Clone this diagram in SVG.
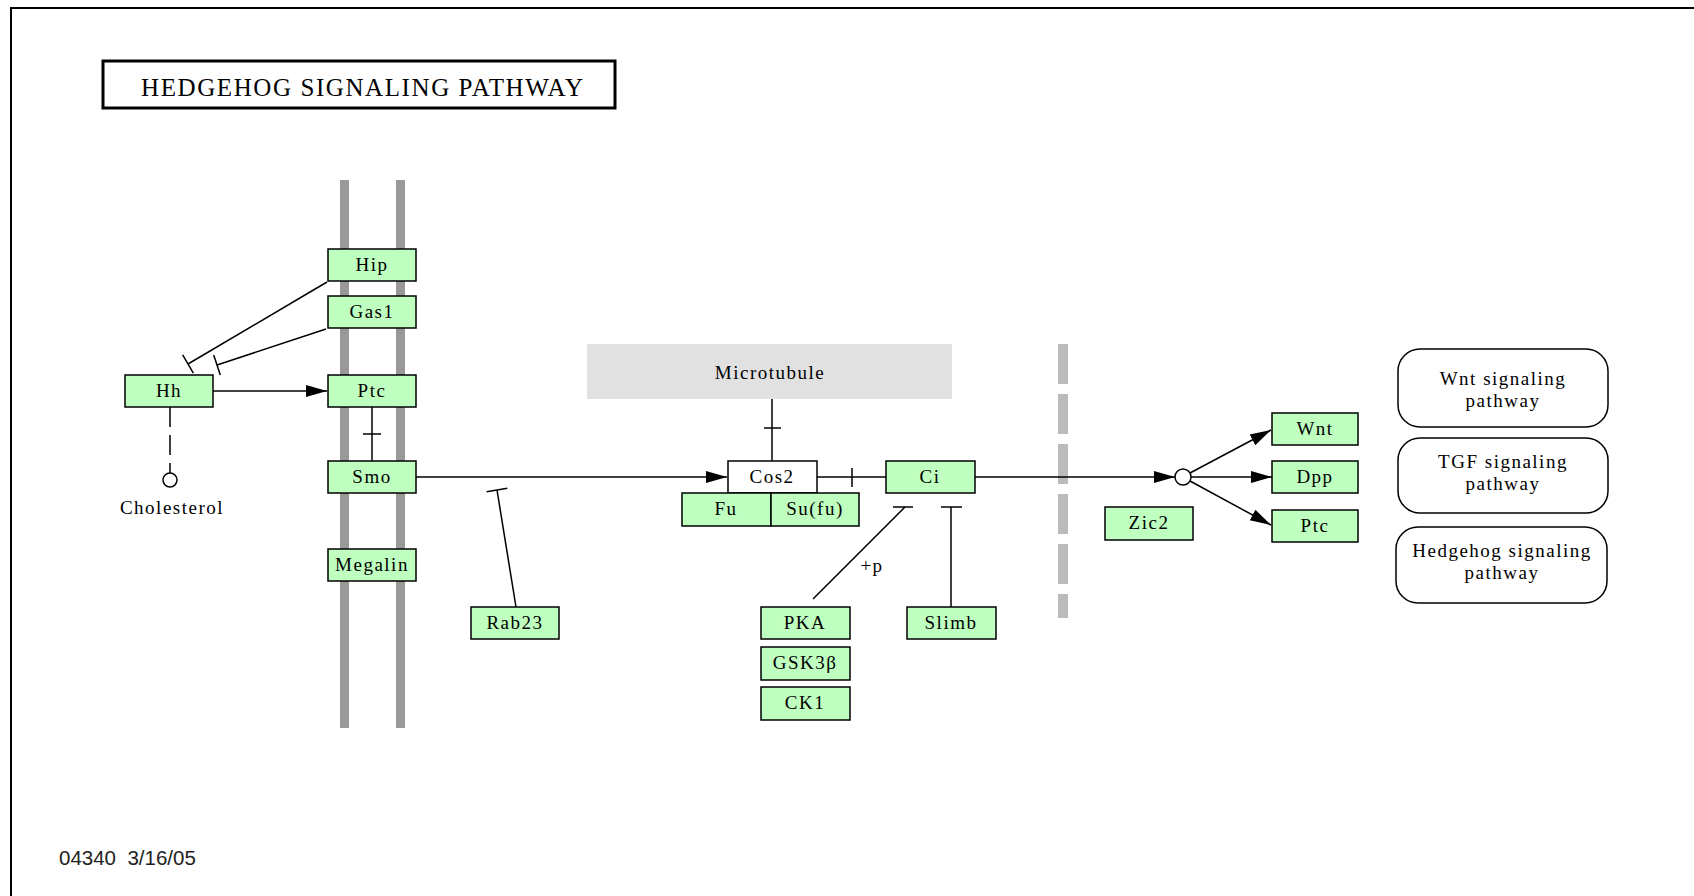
<svg xmlns="http://www.w3.org/2000/svg" width="1694" height="896" viewBox="0 0 1694 896">
  <style>
    .node rect { fill: #bfffbf; stroke: #000; stroke-width: 1.5; }
    .node text, .label, .map text { font-family: "Liberation Serif", "DejaVu Serif", serif; font-size: 19px; letter-spacing: 1.5px; fill: #000; text-anchor: middle; }
    .map rect { fill: #fff; stroke: #000; stroke-width: 1.5; }
    .edge { stroke: #000; stroke-width: 1.5; fill: none; }
    .membrane { stroke: #999; stroke-width: 9; }
  </style>
  <defs>
    <marker id="arrow" markerUnits="userSpaceOnUse" markerWidth="22" markerHeight="16" viewBox="0 0 22 16" refX="21" refY="8" orient="auto">
      <path d="M0,2 L21,8 L0,14 z" fill="#000"/>
    </marker>
    <marker id="inhibit" markerUnits="userSpaceOnUse" markerWidth="4" markerHeight="24" viewBox="-2 -12 4 24" refX="0" refY="0" orient="auto">
      <path d="M0,-10.5 V10.5" stroke="#000" stroke-width="1.5"/>
    </marker>
  </defs>

  <!-- frame -->
  <path d="M11,896 V8 H1694" fill="none" stroke="#000" stroke-width="2"/>

  <!-- title -->
  <g id="title">
    <rect x="103" y="61" width="512" height="47" fill="#fff" stroke="#000" stroke-width="3"/>
    <text x="141" y="96" font-family="Liberation Serif, DejaVu Serif, serif" font-size="25" textLength="442" lengthAdjust="spacing">HEDGEHOG SIGNALING PATHWAY</text>
  </g>

  <!-- cell membrane -->
  <g id="membrane">
    <line class="membrane" x1="344.5" y1="180" x2="344.5" y2="728"/>
    <line class="membrane" x1="400.5" y1="180" x2="400.5" y2="728"/>
  </g>

  <!-- nuclear envelope -->
  <g id="nuclear-envelope">
    <line x1="1063" y1="344" x2="1063" y2="618" stroke="#bbb" stroke-width="10" stroke-dasharray="40,10"/>
  </g>

  <!-- microtubule -->
  <g id="microtubule">
    <rect x="587" y="344" width="365" height="55" fill="#e1e1e1"/>
    <text class="label" x="770" y="379">Microtubule</text>
  </g>

  <!-- connectors -->
  <g id="connectors">
    <!-- Hip, Gas1 inhibit Hh -->
    <line class="edge" x1="327" y1="282" x2="188" y2="364" marker-end="url(#inhibit)"/>
    <line class="edge" x1="326" y1="329" x2="217" y2="365" marker-end="url(#inhibit)"/>
    <!-- Hh activates Ptc -->
    <line class="edge" x1="213" y1="391" x2="327" y2="391" marker-end="url(#arrow)"/>
    <!-- Hh - cholesterol -->
    <line class="edge" x1="170" y1="407" x2="170" y2="473" stroke-dasharray="20,8"/>
    <!-- Ptc inhibits Smo -->
    <line class="edge" x1="372" y1="407" x2="372" y2="461"/>
    <line class="edge" x1="363" y1="434" x2="381" y2="434"/>
    <!-- Smo activates Cos2 -->
    <line class="edge" x1="416" y1="477" x2="727" y2="477" marker-end="url(#arrow)"/>
    <!-- Rab23 inhibits Smo signal -->
    <line class="edge" x1="516" y1="607" x2="497" y2="490" marker-end="url(#inhibit)"/>
    <!-- Microtubule - Cos2 -->
    <line class="edge" x1="772" y1="399" x2="772" y2="461"/>
    <line class="edge" x1="764" y1="428" x2="781" y2="428"/>
    <!-- Cos2 inhibits Ci -->
    <line class="edge" x1="817" y1="477" x2="886" y2="477"/>
    <line class="edge" x1="852" y1="468" x2="852" y2="487"/>
    <!-- PKA, Slimb inhibit Ci -->
    <line class="edge" x1="813" y1="599" x2="905" y2="507" stroke-width="1.2"/>
    <line class="edge" x1="893" y1="507" x2="913" y2="507"/>
    <line class="edge" x1="951" y1="607" x2="951" y2="507"/>
    <line class="edge" x1="941" y1="507" x2="962" y2="507"/>
    <!-- Ci to target genes -->
    <line class="edge" x1="975" y1="477" x2="1175" y2="477" marker-end="url(#arrow)"/>
    <circle cx="1183" cy="477" r="8" fill="#fff" stroke="#000" stroke-width="1.5"/>
    <line class="edge" x1="1190" y1="473" x2="1271" y2="430" marker-end="url(#arrow)"/>
    <line class="edge" x1="1191" y1="477" x2="1272" y2="477" marker-end="url(#arrow)"/>
    <line class="edge" x1="1190" y1="481" x2="1271" y2="525" marker-end="url(#arrow)"/>
  </g>

  <!-- nodes -->
  <g id="node-hip" class="node"><rect x="328" y="249" width="88" height="32"/><text x="372" y="271">Hip</text></g>
  <g id="node-gas1" class="node"><rect x="328" y="296" width="88" height="32"/><text x="372" y="318">Gas1</text></g>
  <g id="node-hh" class="node"><rect x="125" y="375" width="88" height="32"/><text x="169" y="397">Hh</text></g>
  <g id="node-ptc" class="node"><rect x="328" y="375" width="88" height="32"/><text x="372" y="397">Ptc</text></g>
  <g id="node-smo" class="node"><rect x="328" y="461" width="88" height="32"/><text x="372" y="483">Smo</text></g>
  <g id="node-megalin" class="node"><rect x="328" y="549" width="88" height="32"/><text x="372" y="571">Megalin</text></g>
  <g id="node-rab23" class="node"><rect x="471" y="607" width="88" height="32"/><text x="515" y="629">Rab23</text></g>

  <g id="node-cholesterol">
    <circle cx="170" cy="480" r="7" fill="#fff" stroke="#000" stroke-width="1.5"/>
    <text class="label" x="172" y="514">Cholesterol</text>
  </g>

  <g id="node-cos2" class="node"><rect x="728" y="461" width="89" height="32" style="fill:#fff"/><text x="772" y="483">Cos2</text></g>
  <g id="node-fu" class="node"><rect x="682" y="493" width="89" height="33"/><text x="726" y="515">Fu</text></g>
  <g id="node-sufu" class="node"><rect x="771" y="493" width="88" height="33"/><text x="815" y="515">Su(fu)</text></g>
  <g id="node-ci" class="node"><rect x="886" y="461" width="89" height="32"/><text x="930" y="483">Ci</text></g>

  <g id="node-pka" class="node"><rect x="761" y="607" width="89" height="32"/><text x="805" y="629">PKA</text></g>
  <g id="node-gsk3b" class="node"><rect x="761" y="647" width="89" height="33"/><text x="805" y="669">GSK3β</text></g>
  <g id="node-ck1" class="node"><rect x="761" y="687" width="89" height="33"/><text x="805" y="709">CK1</text></g>
  <g id="node-slimb" class="node"><rect x="907" y="607" width="89" height="32"/><text x="951" y="629">Slimb</text></g>
  <text class="label" x="872" y="572">+p</text>

  <g id="node-zic2" class="node"><rect x="1105" y="507" width="88" height="33"/><text x="1149" y="529">Zic2</text></g>
  <g id="node-wnt" class="node"><rect x="1272" y="413" width="86" height="32"/><text x="1315" y="435">Wnt</text></g>
  <g id="node-dpp" class="node"><rect x="1272" y="461" width="86" height="32"/><text x="1315" y="483">Dpp</text></g>
  <g id="node-ptc2" class="node"><rect x="1272" y="510" width="86" height="32"/><text x="1315" y="532">Ptc</text></g>

  <!-- linked pathway maps -->
  <g id="map-wnt" class="map"><rect x="1398" y="349" width="210" height="78" rx="22"/><text x="1503" y="385">Wnt signaling</text><text x="1503" y="407">pathway</text></g>
  <g id="map-tgf" class="map"><rect x="1398" y="438" width="210" height="75" rx="22"/><text x="1503" y="468">TGF signaling</text><text x="1503" y="490">pathway</text></g>
  <g id="map-hedgehog" class="map"><rect x="1396" y="527" width="211" height="76" rx="22"/><text x="1502" y="557">Hedgehog signaling</text><text x="1502" y="579">pathway</text></g>

  <!-- footer -->
  <text x="59" y="865" font-family="Liberation Sans, Arial, sans-serif" font-size="20.5" fill="#222" style="white-space:pre" xml:space="preserve">04340  3/16/05</text>
</svg>
